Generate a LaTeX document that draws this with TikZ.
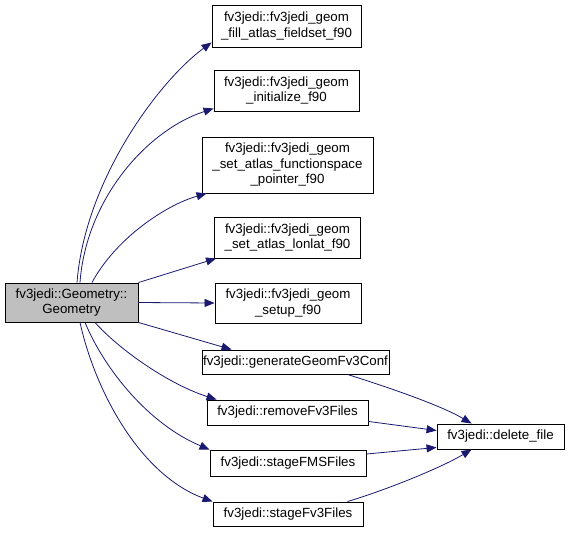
\documentclass[tikz,border=0pt]{standalone}
\usepackage{fontspec}
\setmainfont{Liberation Sans}
\usepackage{tikz}
\usetikzlibrary{arrows.meta, positioning}
\definecolor{edgecolor}{RGB}{25, 25, 112}
\definecolor{rootcolor}{RGB}{191, 191, 191}

\begin{document}
\begin{tikzpicture}[
    x=1pt, y=-1pt,
    func/.style={draw, line width=0.9pt, inner sep=0pt, align=center, font=\fontsize{13.3}{15.5}\selectfont},
    call/.style={-{Triangle[length=10pt, width=8pt]}, draw=edgecolor, line width=0.8pt}
]
    \useasboundingbox (0,0) rectangle (569,533);

    % Main entities
    \node[func, fill=rootcolor, minimum width=133pt, minimum height=39pt] (geom) at (71.5,302.5) {fv3jedi::Geometry::\\Geometry};
    \node[func, minimum width=149pt, minimum height=42pt] (fill) at (286.5,26) {fv3jedi::fv3jedi\_geom\\\_fill\_atlas\_fieldset\_f90};
    \node[func, minimum width=145pt, minimum height=41pt] (init) at (286.5,90.5) {fv3jedi::fv3jedi\_geom\\\_initialize\_f90};
    \node[func, minimum width=171pt, minimum height=56pt] (fspace) at (287.5,165) {fv3jedi::fv3jedi\_geom\\\_set\_atlas\_functionspace\\\_pointer\_f90};
    \node[func, minimum width=146pt, minimum height=41pt] (lonlat) at (287.5,237.5) {fv3jedi::fv3jedi\_geom\\\_set\_atlas\_lonlat\_f90};
    \node[func, minimum width=146pt, minimum height=40pt] (setup) at (288,303) {fv3jedi::fv3jedi\_geom\\\_setup\_f90};
    \node[func, minimum width=187pt, minimum height=24pt] (gen) at (295.5,362) {fv3jedi::generateGeomFv3Conf};
    \node[func, minimum width=161pt, minimum height=25pt] (remove) at (287.5,412.5) {fv3jedi::removeFv3Files};
    \node[func, minimum width=156pt, minimum height=26pt] (stagefms) at (288,463) {fv3jedi::stageFMSFiles};
    \node[func, minimum width=150pt, minimum height=24pt] (stagefv3) at (288,514) {fv3jedi::stageFv3Files};
    \node[func, minimum width=127pt, minimum height=25pt] (delete) at (500.5,436.5) {fv3jedi::delete\_file};

    % Calls from Geometry
    \draw[call] ([xshift=5.5pt]geom.north) .. controls +(8,-103) and +(-52,38) .. ([yshift=5pt]fill.south west);
    \draw[call] ([xshift=8.5pt]geom.north) .. controls +(6,-83) and +(-67,22) .. ([yshift=3pt]init.south west);
    \draw[call] ([xshift=20.5pt]geom.north) .. controls +(23,-43) and +(-42,12) .. ([xshift=5pt]fspace.south west);
    \draw[call] (geom.north east) -- ([xshift=2pt]lonlat.south west);
    \draw[call] (geom.east) -- (setup.west);
    \draw[call] (geom.south east) -- ([xshift=30pt]gen.north west);
    \draw[call] ([xshift=23.5pt]geom.south) .. controls +(25,28) and +(-47,-15) .. ([xshift=10pt]remove.north west);
    \draw[call] ([xshift=13.5pt]geom.south) .. controls +(20,48) and +(-60,-25) .. (stagefms.north west);
    \draw[call] ([xshift=8.5pt]geom.south) .. controls +(15,68) and +(-73,-27) .. (stagefv3.north west);

    % Calls to delete_file
    \draw[call] ([xshift=-42pt]gen.south east) .. controls +(35,11) and +(-32,-19) .. ([xshift=35pt]delete.north west);
    \draw[call] ([yshift=4pt]remove.south east) -- ([yshift=6pt]delete.west);
    \draw[call] ([yshift=9pt]stagefms.east) -- ([yshift=2pt]delete.south west);
    \draw[call] ([xshift=-16pt]stagefv3.north east) .. controls +(40,-12) and +(-30,18) .. ([xshift=35pt]delete.south west);
\end{tikzpicture}
\end{document}
